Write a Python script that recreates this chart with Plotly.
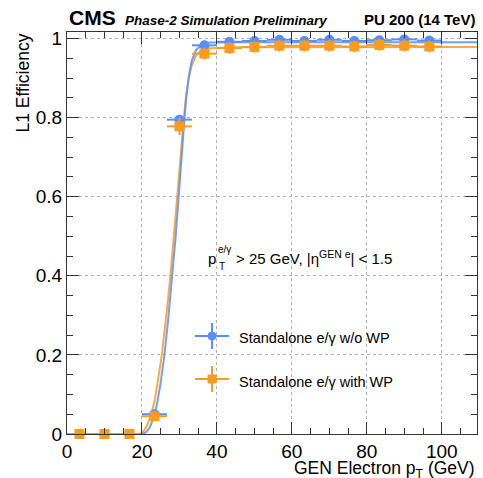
import plotly.graph_objects as go

# ---- data ----
bin_centers = [3.33, 10.0, 16.67, 23.33, 30.0, 36.67, 43.33, 50.0, 56.67, 63.33, 70.0, 76.67, 83.33, 90.0, 96.67]
bin_halfwidth = [3.33] * 15

eff_nowp = [0.0, 0.0, 0.0, 0.050, 0.795, 0.983, 0.992, 0.994, 0.997, 0.994, 0.997, 0.994, 0.996, 0.998, 0.995]
err_nowp = [0.0, 0.0, 0.0, 0.008, 0.012, 0.008, 0.006, 0.006, 0.005, 0.006, 0.005, 0.006, 0.006, 0.005, 0.006]

eff_wp = [0.0, 0.0, 0.0, 0.045, 0.778, 0.962, 0.976, 0.979, 0.982, 0.982, 0.982, 0.980, 0.984, 0.982, 0.980]
err_wp = [0.0, 0.0, 0.0, 0.010, 0.022, 0.015, 0.015, 0.015, 0.015, 0.015, 0.015, 0.015, 0.015, 0.015, 0.015]

# fit curves
fit_nowp_x = [0, 20.0, 21.0, 22.0, 23.0, 24.0, 25.0, 26.0, 27.0, 28.0, 29.0, 29.8, 30.5, 31.2, 31.8, 32.5, 33.3, 34.5, 36.0, 38.0, 45.0, 109.4]
fit_nowp_y = [0, 0.0, 0.004, 0.015, 0.038, 0.075, 0.13, 0.20, 0.29, 0.39, 0.50, 0.60, 0.70, 0.78, 0.85, 0.905, 0.945, 0.972, 0.985, 0.990, 0.991, 0.991]

fit_wp_x = [0, 19.5, 20.5, 21.5, 22.5, 23.5, 24.5, 25.3, 26.5, 27.5, 28.5, 29.5, 30.3, 31.0, 31.7, 32.4, 33.2, 34.3, 35.5, 37.0, 45.0, 109.4]
fit_wp_y = [0, 0.0, 0.008, 0.025, 0.05, 0.09, 0.15, 0.20, 0.30, 0.39, 0.50, 0.60, 0.70, 0.78, 0.85, 0.895, 0.93, 0.955, 0.968, 0.975, 0.978, 0.979]

y_tickvals = [0, 0.2, 0.4, 0.6, 0.8, 1.0]
y_ticktext = ["0", "0.2", "0.4", "0.6", "0.8", "1"]
x_tickvals = [0, 20, 40, 60, 80, 100]
x_ticktext = ["0", "20", "40", "60", "80", "100"]

series_names = ["Standalone e/γ w/o WP", "Standalone e/γ with WP"]

BLUE = "#5790fc"
ORANGE = "#f89c20"
FONT = "Liberation Sans, Arial, sans-serif"

fig = go.Figure()

fig.add_trace(go.Scatter(x=fit_wp_x, y=fit_wp_y, mode="lines",
                         line=dict(color=ORANGE, width=2), opacity=0.85,
                         showlegend=False, hoverinfo="skip"))
fig.add_trace(go.Scatter(x=fit_nowp_x, y=fit_nowp_y, mode="lines",
                         line=dict(color=BLUE, width=2), opacity=0.85,
                         showlegend=False, hoverinfo="skip"))

fig.add_trace(go.Scatter(
    x=bin_centers, y=eff_nowp, mode="markers", name=series_names[0],
    marker=dict(symbol="circle", size=10, color=BLUE),
    error_x=dict(type="data", array=bin_halfwidth, color=BLUE, thickness=2, width=0),
    error_y=dict(type="data", array=err_nowp, color=BLUE, thickness=2, width=0),
    cliponaxis=False, showlegend=False))

fig.add_trace(go.Scatter(
    x=bin_centers, y=eff_wp, mode="markers", name=series_names[1],
    marker=dict(symbol="square", size=10, color=ORANGE),
    error_x=dict(type="data", array=bin_halfwidth, color=ORANGE, thickness=2, width=0),
    error_y=dict(type="data", array=err_wp, color=ORANGE, thickness=2, width=0),
    cliponaxis=False, showlegend=False))

W, H = 483, 478
L, R, T, B = 67, 6, 32, 44
pw, ph = W - L - R, H - T - B


def px(xp):
    return (xp - L) / pw


def py(yp):
    return (H - B - yp) / ph


axis_common = dict(
    showline=True, linecolor="#333", linewidth=1, mirror="allticks",
    ticks="inside", ticklen=12, tickcolor="#333", tickwidth=1,
    showgrid=True, gridcolor="#b0b0b0", griddash="dot", gridwidth=1,
    zeroline=False,
    tickfont=dict(family=FONT, size=19, color="black"),
)

fig.update_layout(
    width=W, height=H,
    margin=dict(l=L, r=R, t=T, b=B),
    paper_bgcolor="white", plot_bgcolor="white",
    xaxis=dict(range=[0, 109.4], tickvals=x_tickvals, ticktext=x_ticktext,
               minor=dict(dtick=5, ticks="inside", ticklen=6, tickcolor="#333", showgrid=False),
               **axis_common),
    yaxis=dict(range=[0, 1.0167], tickvals=y_tickvals, ticktext=y_ticktext,
               minor=dict(dtick=0.05, ticks="inside", ticklen=6, tickcolor="#333", showgrid=False),
               **axis_common),
    font=dict(family=FONT, color="black"),
)

ann = []
# header
ann.append(dict(text="<b>CMS</b>", x=0, y=1.0, xref="paper", yref="paper",
                xanchor="left", yanchor="bottom", yshift=1, showarrow=False,
                font=dict(family=FONT, size=21, color="black")))
ann.append(dict(text="<b><i>Phase-2 Simulation Preliminary</i></b>", x=px(123), y=1.0,
                xref="paper", yref="paper", xanchor="left", yanchor="bottom", yshift=2,
                showarrow=False, font=dict(family=FONT, size=13.5, color="black")))
ann.append(dict(text="<b>PU 200 (14 TeV)</b>", x=1.0, y=1.0, xref="paper", yref="paper",
                xanchor="right", yanchor="bottom", yshift=2, showarrow=False,
                font=dict(family=FONT, size=15, color="black")))
# axis titles
ann.append(dict(text="GEN Electron p<sub>T</sub> (GeV)", x=1.0, y=py(469), xref="paper", yref="paper",
                xanchor="right", yanchor="middle", showarrow=False,
                font=dict(family=FONT, size=17.5, color="black")))
ann.append(dict(text="L1 Efficiency", x=px(22), y=1.0, xref="paper", yref="paper",
                xanchor="center", yanchor="top", textangle=-90, showarrow=False,
                font=dict(family=FONT, size=17.5, color="black")))
# cut text
ann.append(dict(text="p", x=px(206), y=py(258), xref="paper", yref="paper",
                xanchor="left", yanchor="middle", showarrow=False,
                font=dict(family=FONT, size=15, color="black")))
ann.append(dict(text="e/γ", x=px(216), y=py(249), xref="paper", yref="paper",
                xanchor="left", yanchor="middle", showarrow=False,
                font=dict(family=FONT, size=10, color="black")))
ann.append(dict(text="T", x=px(216.5), y=py(266), xref="paper", yref="paper",
                xanchor="left", yanchor="middle", showarrow=False,
                font=dict(family=FONT, size=10, color="black")))
ann.append(dict(text="> 25 GeV, |η<sup>GEN e</sup>| < 1.5", x=px(234), y=py(257), xref="paper", yref="paper",
                xanchor="left", yanchor="middle", showarrow=False,
                font=dict(family=FONT, size=15, color="black")))
# legend text
for name, yp in zip(series_names, [338, 382]):
    ann.append(dict(text=name, x=px(237), y=py(yp), xref="paper", yref="paper",
                    xanchor="left", yanchor="middle", showarrow=False,
                    font=dict(family=FONT, size=14.5, color="black")))
fig.update_layout(annotations=ann)

# legend glyphs
shapes = []
for col, yp, sym in [(BLUE, 336, "circle"), (ORANGE, 379, "rect")]:
    shapes.append(dict(type="line", xref="paper", yref="paper", x0=px(195), x1=px(229), y0=py(yp), y1=py(yp),
                       line=dict(color=col, width=2)))
    shapes.append(dict(type="line", xref="paper", yref="paper", x0=px(212), x1=px(212), y0=py(yp - 13), y1=py(yp + 13),
                       line=dict(color=col, width=2)))
    shapes.append(dict(type=sym, xref="paper", yref="paper", x0=px(208), x1=px(216), y0=py(yp - 4), y1=py(yp + 4),
                       fillcolor=col, line=dict(color=col, width=1)))
fig.update_layout(shapes=shapes)

fig.write_html(
    "out.html",
    config={"displayModeBar": False},
    post_script="document.body.style.margin='0';document.body.style.overflow='hidden';",
)
